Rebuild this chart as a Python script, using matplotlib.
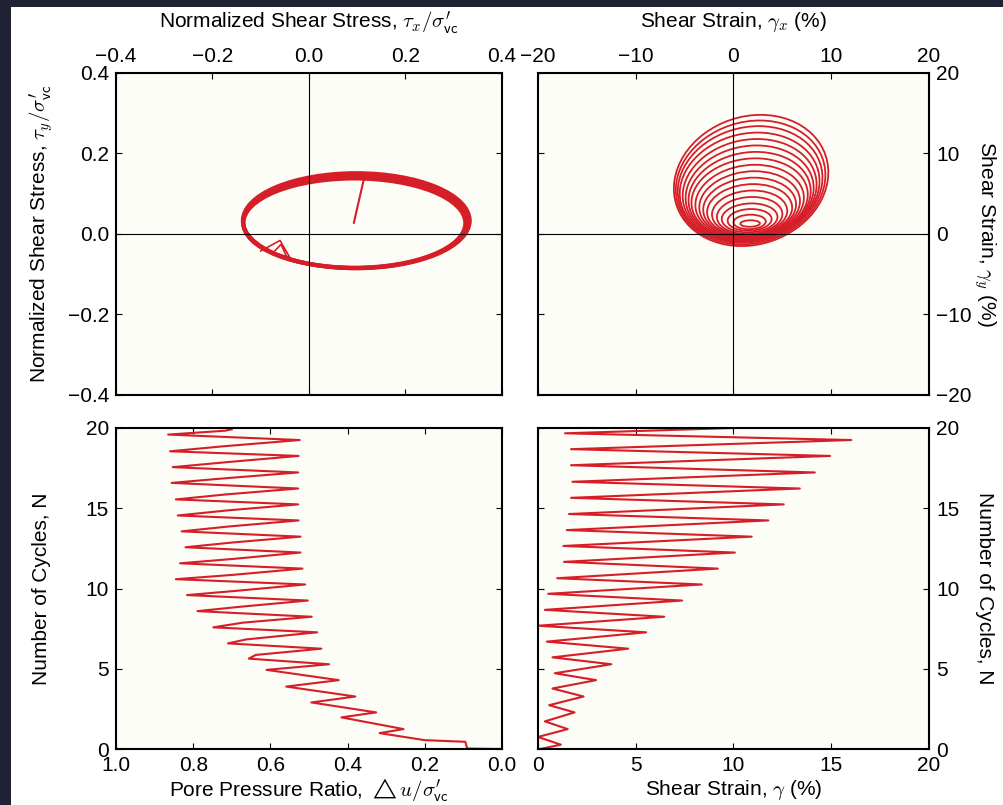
import matplotlib
matplotlib.use('Agg')
import matplotlib.pyplot as plt
from matplotlib.patches import Ellipse, Rectangle
from matplotlib.transforms import Affine2D

# ---- stress path (top left) ----
# three overlapping loops make up the thick red band
stress_cx = [0.094, 0.096, 0.098]
stress_cy = [0.027, 0.030, 0.033]
stress_w = [0.460, 0.465, 0.470]
stress_h = [0.222, 0.229, 0.236]
start_tx = [0.093, 0.114]
start_ty = [0.028, 0.138]
kink_tx = [-0.100, -0.060, -0.040, -0.075, -0.058, -0.045]
kink_ty = [-0.042, -0.016, -0.058, -0.047, -0.026, -0.060]

# ---- strain path loops (top right), one entry per cycle ----
loop_top = [1.7, 2.4, 3.1, 3.8, 4.6, 5.4, 6.2, 7.0, 7.8, 8.6, 9.4, 10.2, 11.0, 11.8, 12.6, 13.4, 14.1, 14.8]
loop_bot = [0.9, 0.6, 0.4, 0.2, 0.0, -0.1, -0.2, -0.3, -0.4, -0.5, -0.6, -0.7, -0.8, -0.9, -1.0, -1.1, -1.3, -1.5]
loop_left = [0.7, 0.0, -0.6, -1.2, -1.7, -2.2, -2.7, -3.1, -3.5, -3.9, -4.3, -4.6, -4.9, -5.2, -5.5, -5.7, -5.9, -6.1]
loop_right = [2.7, 3.3, 3.9, 4.5, 5.0, 5.5, 6.0, 6.4, 6.8, 7.2, 7.6, 7.9, 8.2, 8.5, 8.8, 9.1, 9.4, 9.7]
loop_lean = 0.12  # top of each loop sits a little right of its bottom

# ---- pore pressure ratio vs cycles (bottom left) ----
ru = [0.0, 0.09, 0.093, 0.095, 0.20, 0.317,
      0.255, 0.416, 0.326, 0.494, 0.380, 0.559, 0.423, 0.610,
      0.448, 0.656, 0.638, 0.468, 0.710, 0.662, 0.479, 0.748, 0.672,
      0.493, 0.789, 0.679, 0.503, 0.816, 0.686, 0.510, 0.845, 0.697,
      0.517, 0.834, 0.698, 0.522, 0.820, 0.701, 0.522, 0.830, 0.705,
      0.527, 0.840, 0.709, 0.528, 0.845, 0.716, 0.528, 0.856, 0.716,
      0.528, 0.853, 0.714, 0.527, 0.860, 0.722, 0.524, 0.865, 0.718, 0.700]
ru_n = [0.0, 0.03, 0.27, 0.45, 0.55, 0.99,
        1.24, 1.97, 2.28, 2.90, 3.27, 3.89, 4.29, 4.93,
        5.28, 5.63, 5.86, 6.25, 6.58, 6.83, 7.27, 7.58, 7.87,
        8.24, 8.59, 8.86, 9.25, 9.59, 9.86, 10.25, 10.58, 10.85,
        11.24, 11.57, 11.84, 12.24, 12.57, 12.86, 13.23, 13.56, 13.87,
        14.24, 14.55, 14.87, 15.24, 15.55, 15.86, 16.23, 16.58, 16.87,
        17.23, 17.56, 17.87, 18.26, 18.55, 18.86, 19.25, 19.59, 19.83, 19.92]

# ---- shear strain vs cycles (bottom right) ----
gam = [0.1, 1.17, 0.0, 1.52, 0.35, 1.87, 0.57, 2.33, 0.74, 2.97, 0.86, 3.75,
       0.74, 4.61, 0.45, 5.53, 0.0, 6.46, 0.35, 7.37, 0.52, 8.38, 0.98, 9.20,
       1.33, 10.07, 1.30, 10.93, 1.47, 11.78, 1.59, 12.57, 1.69, 13.39, 1.76,
       14.16, 1.69, 14.94, 1.69, 16.03, 1.38, 10.0]
gam_n = [0.0, 0.27, 0.75, 1.24, 1.72, 2.28, 2.73, 3.27, 3.77, 4.29, 4.72, 5.28,
         5.71, 6.25, 6.69, 7.27, 7.68, 8.24, 8.67, 9.25, 9.67, 10.25, 10.64, 11.24,
         11.66, 12.24, 12.65, 13.23, 13.64, 14.24, 14.64, 15.24, 15.65, 16.23, 16.65,
         17.23, 17.68, 18.26, 18.68, 19.25, 19.67, 20.0]

red = '#d61e28'
W, H = 1004, 805

plt.rcParams['font.family'] = ['Liberation Sans', 'DejaVu Sans']
plt.rcParams['font.size'] = 15
plt.rcParams['mathtext.fontset'] = 'cm'
plt.rcParams['xtick.direction'] = 'in'
plt.rcParams['ytick.direction'] = 'in'
plt.rcParams['xtick.major.size'] = 4
plt.rcParams['ytick.major.size'] = 4
plt.rcParams['xtick.major.pad'] = 5
plt.rcParams['ytick.major.pad'] = 5
plt.rcParams['axes.linewidth'] = 1.5
plt.rcParams['axes.facecolor'] = '#fdfdf7'

fig = plt.figure(figsize=(W / 100, H / 100), dpi=100)
fig.patch.set_facecolor('#1f2233')
fig.add_artist(Rectangle((11 / W, 0), 1 - 11 / W, 1 - 7 / H, transform=fig.transFigure,
                         facecolor='white', edgecolor='none', zorder=-10))


def box(l, r, t, b):
    return fig.add_axes([l / W, 1 - b / H, (r - l) / W, (b - t) / H])


ax1 = box(116, 502, 73, 395)
ax2 = box(538, 929, 73, 395)
ax3 = box(116, 502, 428, 749)
ax4 = box(538, 929, 428, 749)

for ax in (ax1, ax2, ax3, ax4):
    ax.tick_params(top=True, bottom=True, left=True, right=True, width=0.8)

# top left: stress path
for cx, cy, w, h in zip(stress_cx, stress_cy, stress_w, stress_h):
    ax1.add_patch(Ellipse((cx, cy), w, h, fill=False, edgecolor=red, lw=3))
ax1.plot(start_tx, start_ty, color=red, lw=1.5)
ax1.plot(kink_tx, kink_ty, color=red, lw=1.2)
ax1.axhline(0, color='k', lw=0.8)
ax1.axvline(0, color='k', lw=0.8)
ax1.set_xlim(-0.4, 0.4)
ax1.set_ylim(-0.4, 0.4)
ax1.set_xticks([-0.4, -0.2, 0.0, 0.2, 0.4])
ax1.set_yticks([-0.4, -0.2, 0.0, 0.2, 0.4])
ax1.tick_params(labeltop=True, labelbottom=False)
ax1.xaxis.set_label_position('top')
ax1.set_xlabel(r"Normalized Shear Stress, $\tau_x/\sigma^{\prime}_{\mathsf{vc}}$", va='center')
ax1.set_ylabel(r"Normalized Shear Stress, $\tau_y/\sigma^{\prime}_{\mathsf{vc}}$", va='center')

# top right: strain path, each loop leaning slightly to the right
for t, b, l, r in zip(loop_top, loop_bot, loop_left, loop_right):
    cx, cy = (l + r) / 2, (t + b) / 2
    half_h = (t - b) / 2
    half_w = max(((r - l) / 2) ** 2 - (loop_lean * half_h) ** 2, 0.04) ** 0.5
    lean = Affine2D().translate(-cx, -cy).skew(loop_lean, 0).translate(cx, cy)
    ax2.add_patch(Ellipse((cx, cy), 2 * half_w, 2 * half_h, fill=False,
                          edgecolor=red, lw=1.3, transform=lean + ax2.transData))
ax2.axhline(0, color='k', lw=0.8)
ax2.axvline(0, color='k', lw=0.8)
ax2.set_xlim(-20, 20)
ax2.set_ylim(-20, 20)
ax2.set_xticks([-20, -10, 0, 10, 20])
ax2.set_yticks([-20, -10, 0, 10, 20])
ax2.tick_params(labeltop=True, labelbottom=False, labelright=True, labelleft=False)
ax2.xaxis.set_label_position('top')
ax2.yaxis.set_label_position('right')
ax2.set_xlabel(r"Shear Strain, $\gamma_x$ (%)", va='center')
ax2.set_ylabel(r"Shear Strain, $\gamma_y$ (%)", rotation=270, va='center', ha='center')

# bottom left: pore pressure
ax3.plot(ru, ru_n, color=red, lw=1.5, solid_joinstyle='round')
ax3.set_xlim(1.0, 0.0)
ax3.set_ylim(0, 20)
ax3.set_xticks([1.0, 0.8, 0.6, 0.4, 0.2, 0.0])
ax3.set_yticks([0, 5, 10, 15, 20])
ax3.set_xlabel(r"Pore Pressure Ratio, $\triangle u/\sigma^{\prime}_{\mathsf{vc}}$", va='center')
ax3.set_ylabel("Number of Cycles, N", va='center')

# bottom right: shear strain
ax4.plot(gam, gam_n, color=red, lw=1.5, solid_joinstyle='round')
ax4.set_xlim(0, 20)
ax4.set_ylim(0, 20)
ax4.set_xticks([0, 5, 10, 15, 20])
ax4.set_yticks([0, 5, 10, 15, 20])
ax4.tick_params(labelright=True, labelleft=False)
ax4.yaxis.set_label_position('right')
ax4.set_xlabel(r"Shear Strain, $\gamma$ (%)", va='center')
ax4.set_ylabel("Number of Cycles, N", rotation=270, va='center', ha='center')

for ax in (ax1, ax3):
    ax.yaxis.set_label_coords(-0.192, 0.5)
for ax in (ax2, ax4):
    ax.yaxis.set_label_coords(1.142, 0.5)
for ax in (ax1, ax2):
    ax.xaxis.set_label_coords(0.5, 1.158)
for ax in (ax3, ax4):
    ax.xaxis.set_label_coords(0.5, -0.128)

fig.savefig('out.png', dpi=100, facecolor=fig.get_facecolor())
